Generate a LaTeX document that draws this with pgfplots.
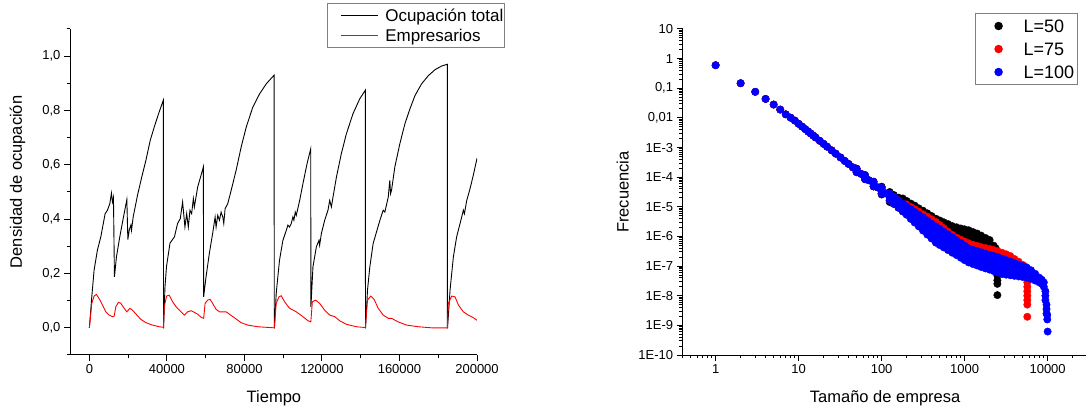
\documentclass[border=0pt]{standalone}
\usepackage{fontspec}
\setmainfont{Liberation Sans}
\usepackage{pgfplots}
\usepackage{pgfplotstable}
\pgfplotsset{compat=1.18}

\pgfplotstableread{
x y
1 0.6
2 0.148
3 0.0759
4 0.0437
5 0.0282
6 0.0191
7 0.0132
8 0.0102
9 0.00813
10 0.00631
11 5.09e-3
12 4.19e-3
13 3.50e-3
14 2.96e-3
15 2.53e-3
16 2.19e-3
18 1.68e-3
20 1.33e-3
22 1.07e-3
25 8.04e-4
28 6.22e-4
32 4.61e-4
36 3.53e-4
40 2.79e-4
45 2.14e-4
50 1.69e-4
56 1.31e-4
63 1.00e-4
70 7.92e-5
80 5.86e-5
90 4.50e-5
100 3.55e-5
110 2.86e-5
125 2.15e-5
140 1.66e-5
160 1.23e-5
180 9.46e-6
50 1.94e-4
50 1.47e-4
63 1.18e-4
63 8.55e-5
80 7.05e-5
80 4.88e-5
100 4.37e-5
100 2.88e-5
125 2.77e-5
125 1.67e-5
140 2.19e-5
140 1.26e-5
160 1.63e-5
160 9.35e-6
180 1.28e-5
180 7.02e-6
}\common

\pgfplotstableread{
x y
100 4.8e-5
100 2.6e-5
125 3.16e-5
125 1.45e-5
140 2.51e-5
160 2.04e-5
180 1.91e-5
200 1.58e-5
200 1.07e-5
200 7.24e-6
225 1.29e-5
225 8.71e-6
225 5.89e-6
250 1.10e-5
250 7.41e-6
250 5.01e-6
280 8.91e-6
280 6.03e-6
280 4.07e-6
315 7.41e-6
315 5.01e-6
315 3.39e-6
355 6.03e-6
355 4.07e-6
355 2.75e-6
400 4.90e-6
400 3.31e-6
400 2.24e-6
450 3.98e-6
450 2.69e-6
450 1.82e-6
500 3.47e-6
500 2.34e-6
500 1.58e-6
560 3.02e-6
560 2.04e-6
560 1.38e-6
630 2.63e-6
630 1.78e-6
630 1.20e-6
710 2.24e-6
710 1.51e-6
710 1.02e-6
800 2.04e-6
800 1.38e-6
800 9.33e-7
900 1.86e-6
900 1.26e-6
900 8.51e-7
1000 1.74e-6
1000 1.17e-6
1000 7.94e-7
1120 1.62e-6
1120 1.10e-6
1120 7.41e-7
1260 1.41e-6
1260 9.55e-7
1260 6.46e-7
1410 1.26e-6
1410 8.51e-7
1410 5.75e-7
1580 1.07e-6
1580 7.24e-7
1580 4.90e-7
1780 8.91e-7
1780 6.03e-7
1780 4.07e-7
2000 7.59e-7
2000 5.13e-7
2000 3.47e-7
2240 4.90e-7
2240 3.31e-7
2370 3.98e-7
2370 2.82e-7
2480 2.51e-7
2480 1.66e-7
2480 1.10e-7
2480 7.24e-8
2480 4.79e-8
2480 3.31e-8
2480 2.51e-8
2480 1.05e-8
}\blackB

\pgfplotstableread{
x y
200 1.20e-5
200 8.32e-6
200 5.62e-6
225 9.77e-6
225 6.31e-6
225 4.07e-6
250 8.32e-6
250 5.13e-6
250 3.09e-6
280 6.92e-6
280 4.79e-6
280 3.31e-6
280 2.29e-6
315 5.62e-6
315 3.80e-6
315 2.51e-6
315 1.70e-6
355 4.68e-6
355 2.95e-6
355 1.91e-6
355 1.23e-6
400 3.80e-6
400 2.34e-6
400 1.45e-6
400 8.91e-7
450 3.09e-6
450 1.86e-6
450 1.10e-6
450 6.61e-7
500 2.45e-6
500 1.48e-6
500 8.91e-7
500 5.37e-7
560 1.91e-6
560 1.17e-6
560 7.24e-7
560 4.47e-7
630 1.45e-6
630 9.12e-7
630 5.75e-7
630 3.63e-7
710 1.12e-6
710 7.08e-7
710 4.57e-7
710 2.95e-7
800 9.12e-7
800 6.03e-7
800 4.07e-7
800 2.69e-7
900 7.76e-7
900 5.37e-7
900 3.63e-7
900 2.51e-7
1000 6.76e-7
1000 4.79e-7
1000 3.39e-7
1000 2.40e-7
1120 5.89e-7
1120 4.27e-7
1120 3.09e-7
1120 2.24e-7
1260 5.25e-7
1260 3.80e-7
1260 2.75e-7
1260 2.0e-7
1410 4.79e-7
1410 3.47e-7
1410 2.45e-7
1410 1.78e-7
1580 4.37e-7
1580 3.09e-7
1580 2.19e-7
1580 1.55e-7
1780 4.07e-7
1780 2.82e-7
1780 1.95e-7
1780 1.38e-7
2000 3.80e-7
2000 2.57e-7
2000 1.78e-7
2000 1.20e-7
2240 3.47e-7
2240 2.34e-7
2240 1.58e-7
2240 1.05e-7
2510 3.16e-7
2510 2.09e-7
2510 1.41e-7
2510 9.33e-8
2820 2.82e-7
2820 1.86e-7
2820 1.23e-7
2820 8.13e-8
3160 2.51e-7
3160 1.66e-7
3160 1.10e-7
3160 7.41e-8
3550 2.19e-7
3550 1.48e-7
3550 1.0e-7
3550 6.76e-8
3980 1.74e-7
3980 1.23e-7
3980 8.71e-8
3980 6.17e-8
4470 1.41e-7
4470 8.91e-8
4470 5.62e-8
5010 1.10e-7
5010 7.59e-8
5010 5.13e-8
5370 9.55e-8
5370 5.01e-8
5690 7.94e-8
5690 5.62e-8
5690 3.98e-8
5690 2.82e-8
5690 2.0e-8
5690 1.41e-8
5690 1.0e-8
5690 7.08e-9
5690 5.01e-9
5690 1.95e-9
}\redB

\pgfplotstableread{
x y
200 1.05e-5
200 7.41e-6
200 5.37e-6
225 8.32e-6
225 5.75e-6
225 3.89e-6
250 6.76e-6
250 4.47e-6
250 2.95e-6
280 5.50e-6
280 3.47e-6
280 2.19e-6
315 4.37e-6
315 3.09e-6
315 2.24e-6
315 1.58e-6
355 3.47e-6
355 2.40e-6
355 1.66e-6
355 1.15e-6
400 2.69e-6
400 1.82e-6
400 1.26e-6
400 8.51e-7
450 2.19e-6
450 1.45e-6
450 9.33e-7
450 6.17e-7
500 1.78e-6
500 1.17e-6
500 7.76e-7
500 5.13e-7
560 1.45e-6
560 9.55e-7
560 6.31e-7
560 4.27e-7
630 1.17e-6
630 7.76e-7
630 5.25e-7
630 3.47e-7
710 9.33e-7
710 6.31e-7
710 4.27e-7
710 2.82e-7
800 7.41e-7
800 5.01e-7
800 3.47e-7
800 2.34e-7
900 6.03e-7
900 4.07e-7
900 2.82e-7
900 1.91e-7
1000 4.90e-7
1000 3.39e-7
1000 2.34e-7
1000 1.58e-7
1120 3.98e-7
1120 2.75e-7
1120 1.91e-7
1120 1.32e-7
1260 3.55e-7
1260 2.45e-7
1260 1.70e-7
1260 1.17e-7
1410 3.24e-7
1410 2.24e-7
1410 1.51e-7
1410 1.05e-7
1580 2.95e-7
1580 2.0e-7
1580 1.38e-7
1580 9.33e-8
1780 2.63e-7
1780 1.82e-7
1780 1.23e-7
1780 8.32e-8
2000 2.40e-7
2000 1.62e-7
2000 1.10e-7
2000 7.59e-8
2240 2.19e-7
2240 1.48e-7
2240 1.0e-7
2240 6.76e-8
2510 2.0e-7
2510 1.35e-7
2510 8.91e-8
2510 6.03e-8
2820 1.78e-7
2820 1.20e-7
2820 8.13e-8
2820 5.37e-8
3160 1.58e-7
3160 1.10e-7
3160 7.41e-8
3160 5.13e-8
3550 1.41e-7
3550 1.0e-7
3550 6.92e-8
3550 4.90e-8
3980 1.26e-7
3980 9.12e-8
3980 6.46e-8
3980 4.68e-8
4470 1.12e-7
4470 8.13e-8
4470 6.03e-8
4470 4.47e-8
5010 1.0e-7
5010 6.46e-8
5010 4.27e-8
5620 8.91e-8
5620 6.03e-8
5620 4.07e-8
6310 7.24e-8
6310 5.25e-8
6310 3.72e-8
7080 5.50e-8
7080 3.24e-8
7940 4.07e-8
7940 2.82e-8
8500 3.47e-8
8500 2.51e-8
9000 2.82e-8
9000 2.0e-8
9400 1.41e-8
9400 1.0e-8
9400 7.08e-9
9700 5.01e-9
9700 3.55e-9
9700 2.51e-9
9900 2.24e-9
9900 1.58e-9
10000 6.17e-10
}\blueB

\begin{document}
\begin{tikzpicture}
% ---------------- left chart ----------------
\begin{axis}[
  at={(70pt,59pt)}, anchor=south west, scale only axis,
  width=407pt, height=326pt,
  xmin=-10000, xmax=200000, ymin=-0.1, ymax=1.1,
  axis x line*=bottom, axis y line*=left, axis line style={-, line width=1pt},
  xtick={0,40000,80000,120000,160000,200000},
  minor xtick={20000,60000,100000,140000,180000},
  ytick={0,0.2,0.4,0.6,0.8,1.0},
  minor ytick={-0.1,0.1,0.3,0.5,0.7,0.9,1.1},
  tick align=outside, major tick length=6pt, minor tick length=3.5pt,
  every tick/.style={black, line width=1pt},
  scaled x ticks=false, scaled y ticks=false,
  /pgf/number format/assume math mode=true,
  tick label style={font=\fontsize{13}{13}\selectfont},
  x tick label style={/pgf/number format/.cd, fixed, precision=0, 1000 sep={}},
  y tick label style={/pgf/number format/.cd, use comma, fixed, fixed zerofill, precision=1},
  xlabel={Tiempo}, ylabel={Densidad de ocupación},
  every axis x label/.style={at={(rel axis cs:0.501,-0.1442)}, anchor=base, font=\fontsize{16.5}{16.5}\selectfont},
  every axis y label/.style={at={(rel axis cs:-0.118,0.531)}, anchor=base, rotate=90, font=\fontsize{16.5}{16.5}\selectfont},
  legend cell align=left,
  legend style={at={(0.6314,1.0798)}, anchor=north west, draw=gray, line width=1pt,
    font=\fontsize{17}{17}\selectfont, inner xsep=1pt, inner ysep=5.5pt, row sep=8.5pt,
    nodes={inner sep=0pt, text height=12.2pt, text depth=0pt}},
  legend image code/.code={\path[draw=none,fill=none] (0pt,-6pt) rectangle (56.8pt,6pt); \draw[#1, line width=1pt] (13pt,0pt) -- (49.6pt,0pt);},
]
\addplot[draw=black, line width=0.9pt] coordinates {
(0,0) (1240,0.114) (2430,0.212) (4140,0.286) (5900,0.335) (8120,0.42) (9310,0.433) (10550,0.457) (11380,0.496) (11900,0.463) (12420,0.48) (12930,0.188) (13970,0.261) (15700,0.335) (17430,0.402) (19330,0.472) (19850,0.325) (20540,0.359) (21400,0.378) (21730,0.359) (22600,0.408) (24830,0.488) (27420,0.567) (29140,0.616) (31400,0.69) (33500,0.74) (35800,0.79) (38150,0.838) (38250,0.0)
(38300,0.0) (39000,0.15) (39800,0.226) (41600,0.312) (43900,0.335) (45500,0.384) (46900,0.402) (48100,0.463) (49300,0.371) (50200,0.42) (51050,0.371) (51900,0.433) (52770,0.42) (53640,0.476) (54160,0.445) (55870,0.518) (57600,0.561) (58800,0.592) (58950,0.114) (60200,0.188) (61900,0.274) (63600,0.347) (64870,0.408) (65380,0.371) (66230,0.414) (67100,0.396) (67970,0.426) (68830,0.408) (69340,0.384) (70040,0.439) (71400,0.457) (73150,0.506) (75720,0.58) (78300,0.665) (80900,0.738) (84300,0.812) (87800,0.861) (91250,0.898) (95300,0.93) (95400,0.0)
(95500,0.0) (96400,0.127) (98100,0.249) (99850,0.322) (101600,0.359) (102430,0.378) (103300,0.371) (104170,0.384) (105000,0.408) (105530,0.396) (106230,0.426) (106750,0.414) (108500,0.469) (110200,0.531) (112300,0.604) (114200,0.659) (114300,0.077) (115350,0.224) (117100,0.298) (118460,0.322) (118800,0.304) (119700,0.347) (121400,0.396) (123100,0.433) (124000,0.469) (124870,0.445) (125700,0.481) (127470,0.555) (130000,0.641) (132600,0.714) (136000,0.788) (139500,0.843) (142400,0.875) (142450,0.0)
(142500,0.0) (143500,0.139) (144700,0.224) (146400,0.31) (148150,0.353) (149900,0.396) (151600,0.433) (152450,0.426) (154200,0.481) (155000,0.543) (155400,0.494) (155900,0.506) (157600,0.592) (160200,0.678) (162800,0.751) (165400,0.806) (168000,0.855) (171400,0.898) (174850,0.928) (178300,0.95) (181800,0.964) (184700,0.97) (184750,0.0)
(184800,0.0) (186100,0.139) (187800,0.261) (189500,0.335) (191250,0.384) (192100,0.408) (192950,0.433) (193500,0.42) (194700,0.469) (196400,0.512) (198200,0.565) (200000,0.624)
};
\addlegendentry{Ocupación total}
\addplot[draw=red, line width=0.9pt] coordinates {
(0,0) (1240,0.09) (2430,0.117) (3620,0.123) (5020,0.108) (6730,0.084) (8480,0.059) (10190,0.047) (11900,0.041) (12780,0.043) (13650,0.078) (15000,0.094) (16240,0.09) (17950,0.072) (19330,0.059) (20900,0.072) (22240,0.065) (24000,0.051) (26600,0.031) (29170,0.019) (32600,0.01) (36060,0.004) (38200,0.002) (38650,0.078) (39850,0.117) (41200,0.12) (42950,0.096) (44700,0.078) (45500,0.072) (47300,0.059) (49000,0.047) (50700,0.059) (52450,0.063) (54160,0.057) (55870,0.05) (57600,0.039) (58970,0.035) (59700,0.09) (61050,0.102) (62300,0.105) (63600,0.09) (65380,0.068) (67100,0.059) (68800,0.059) (70560,0.059) (72300,0.05) (74850,0.037) (78300,0.019) (81750,0.01) (86900,0.004) (95400,0.0) (96400,0.09) (97800,0.114) (99000,0.118) (100700,0.096) (103300,0.072) (106750,0.059) (110200,0.041) (112800,0.026) (114250,0.022) (115050,0.096) (116750,0.102) (118800,0.09) (121400,0.065) (124000,0.047) (126600,0.041) (129200,0.026) (132600,0.013) (137800,0.004) (142400,0.001) (143500,0.102) (145200,0.117) (146900,0.105) (149000,0.072) (151600,0.047) (154200,0.035) (155900,0.035) (159300,0.022) (163700,0.01) (169700,0.004) (176600,0.0) (184700,0.0) (185200,0.09) (186950,0.117) (188650,0.114) (190400,0.084) (192950,0.059) (195500,0.047) (197500,0.04) (200000,0.028)
};
\addlegendentry{Empresarios}
\end{axis}

% ---------------- right chart ----------------
\begin{axis}[
  at={(682.6pt,59pt)}, anchor=south west, scale only axis,
  width=403.4pt, height=326pt,
  xmode=log, ymode=log,
  xmin=0.4, xmax=29000, ymin=1e-10, ymax=10,
  axis x line*=bottom, axis y line*=left, axis line style={-, line width=1pt},
  xtick={1,10,100,1000,10000}, xticklabels={1,10,100,1000,10000},
  minor xtick={0.4,0.5,0.6,0.7,0.8,0.9,2,3,4,5,6,7,8,9,20,30,40,50,60,70,80,90,200,300,400,500,600,700,800,900,2000,3000,4000,5000,6000,7000,8000,9000,20000},
  ytick={1e-10,1e-9,1e-8,1e-7,1e-6,1e-5,1e-4,1e-3,0.01,0.1,1,10},
  yticklabels={1E-10,1E-9,1E-8,1E-7,1E-6,1E-5,1E-4,1E-3,{0,01},{0,1},1,10},
  minor ytick={2e-10,3e-10,4e-10,5e-10,6e-10,7e-10,8e-10,9e-10,
    2e-9,3e-9,4e-9,5e-9,6e-9,7e-9,8e-9,9e-9,
    2e-8,3e-8,4e-8,5e-8,6e-8,7e-8,8e-8,9e-8,
    2e-7,3e-7,4e-7,5e-7,6e-7,7e-7,8e-7,9e-7,
    2e-6,3e-6,4e-6,5e-6,6e-6,7e-6,8e-6,9e-6,
    2e-5,3e-5,4e-5,5e-5,6e-5,7e-5,8e-5,9e-5,
    2e-4,3e-4,4e-4,5e-4,6e-4,7e-4,8e-4,9e-4,
    2e-3,3e-3,4e-3,5e-3,6e-3,7e-3,8e-3,9e-3,
    0.02,0.03,0.04,0.05,0.06,0.07,0.08,0.09,
    0.2,0.3,0.4,0.5,0.6,0.7,0.8,0.9,
    2,3,4,5,6,7,8,9},
  tick align=outside, major tick length=6pt, minor tick length=3.5pt,
  every tick/.style={black, line width=1pt},
  tick label style={font=\fontsize{13}{13}\selectfont},
  xlabel={Tamaño de empresa}, ylabel={Frecuencia},
  every axis x label/.style={at={(rel axis cs:0.502,-0.1442)}, anchor=base, font=\fontsize{16.5}{16.5}\selectfont},
  every axis y label/.style={at={(rel axis cs:-0.134,0.5)}, anchor=base, rotate=90, font=\fontsize{16.5}{16.5}\selectfont},
  legend cell align=left,
  legend style={at={(0.725,1.049)}, anchor=north west, draw=gray, line width=1pt,
    font=\fontsize{18}{18}\selectfont, inner xsep=3.5pt, inner ysep=6pt, row sep=10pt,
    nodes={inner sep=0pt, text height=13pt, text depth=0pt}},
  legend image code/.code={\path[draw=none,fill=none] (0pt,-6.5pt) rectangle (44.5pt,6.5pt); \draw[#1, only marks] plot coordinates {(19.5pt,0pt)};},
]
\addplot[only marks, mark=*, mark size=3.7pt, black, forget plot] table {\common};
\addplot[only marks, mark=*, mark size=3.7pt, black] table {\blackB};
\addlegendentry{L=50}
\addplot[only marks, mark=*, mark size=3.7pt, red, forget plot] table {\common};
\addplot[only marks, mark=*, mark size=3.7pt, red] table {\redB};
\addlegendentry{L=75}
\addplot[only marks, mark=*, mark size=3.7pt, blue, forget plot] table {\common};
\addplot[only marks, mark=*, mark size=3.7pt, blue] table {\blueB};
\addlegendentry{L=100}
\end{axis}
\pgfresetboundingbox
\path[use as bounding box] (0pt,0pt) rectangle (1086pt,414pt);
\end{tikzpicture}
\end{document}
